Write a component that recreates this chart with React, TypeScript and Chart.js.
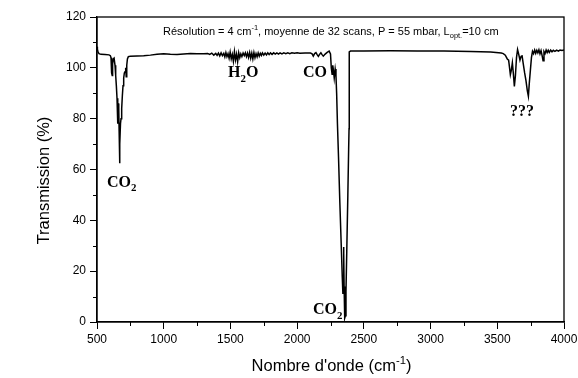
import React, { useEffect, useRef } from "react";
import { Chart, registerables } from "chart.js";

Chart.register(...registerables);

// Wavenumber (cm-1)
const wavenumbers: number[] = [
  500, 503, 508, 515, 530, 560, 590, 600, 605, 608, 611, 614, 617, 622, 628,
  635, 640, 645, 650, 654, 657, 660, 663, 666, 669, 672, 676, 680, 685, 690,
  695, 700, 705, 710, 715, 719, 723, 728, 735, 750,
  800, 850, 900, 950, 1000, 1050, 1100, 1150, 1200, 1250, 1300,
  1330, 1345, 1360, 1375, 1390, 1400, 1410, 1420, 1430, 1440, 1450, 1458, 1466,
  1474, 1482, 1490, 1498, 1506, 1514, 1522, 1530, 1538, 1546, 1554, 1562, 1570,
  1578, 1586, 1595, 1604, 1612, 1620, 1628, 1636, 1644, 1652, 1660, 1668, 1676,
  1684, 1692, 1700, 1708, 1716, 1724, 1732, 1740, 1750, 1760, 1770, 1780, 1790,
  1800, 1812, 1824, 1836, 1848, 1860, 1872, 1886, 1900, 1915, 1930, 1945, 1960,
  1980, 2000, 2020, 2060, 2100, 2112, 2121, 2131, 2141, 2150, 2159, 2168, 2178,
  2187, 2196, 2210, 2225, 2240, 2250, 2256, 2262, 2267, 2272, 2278, 2285, 2291,
  2296, 2302, 2310, 2320, 2330, 2338, 2343, 2346, 2348, 2350, 2352, 2355, 2358,
  2362, 2366, 2372, 2380, 2386, 2389, 2390, 2391, 2400,
  2500, 2700, 2900, 3100, 3300, 3450, 3530,
  3545, 3560, 3575, 3585, 3592, 3598, 3605, 3613, 3620, 3628, 3636, 3644, 3652,
  3660, 3670, 3678, 3685, 3695, 3705, 3715, 3725, 3733, 3740, 3748, 3756, 3764,
  3772, 3780, 3788, 3796, 3804, 3812, 3820, 3828, 3836, 3843, 3850, 3858, 3866,
  3874, 3882, 3890, 3900, 3910, 3920, 3932, 3945, 3958, 3970, 3985, 4000,
];

// Transmission (%)
const transmission: number[] = [
  108.3, 107.3, 106.2, 105.6, 105.3, 105.2, 105.1, 104.8, 104, 101, 98, 97, 101.5, 103.5, 103.8,
  101, 97, 93, 88, 83, 78, 86, 84, 75, 62.5, 70, 78, 80, 84, 89,
  93, 96, 98, 98.5, 100, 96.5, 101, 103.5, 104.4, 104.6,
  104.7, 104.8, 105.0, 105.3, 105.5, 105.3, 105.2, 105.4, 105.6, 105.5, 105.5,
  105.6, 105.3, 105.8, 105.0, 105.7, 104.9, 105.8, 104.7, 105.9, 104.8, 105.7, 104.3, 106.0,
  104.4, 105.6, 103.8, 106.2, 103.5, 105.3, 102.6, 106.4, 103.1, 105.4, 102.4, 105.9, 104.0,
  105.5, 104.4, 105.8, 104.8, 105.9, 104.4, 105.8, 104.1, 106.0, 103.8, 105.8, 103.5, 106.0,
  104.0, 105.6, 104.3, 105.9, 104.6, 105.7, 104.9, 105.9, 105.0, 105.8, 105.1, 105.9, 105.2,
  105.9, 105.3, 105.9, 105.4, 105.9, 105.4, 105.9, 105.5, 105.9, 105.6, 105.9, 105.6, 105.9,
  105.7, 105.9, 105.7, 105.8, 105.8, 105.5, 104.6, 105.6, 106.0, 105.2, 104.5, 105.3, 105.9,
  105.2, 104.6, 105.4, 106.1, 106.6, 105.5, 100, 97.5, 101, 99, 96, 99.5, 97,
  90, 78, 65, 47, 31, 18, 11, 18, 29.5, 27, 14, 5, 1.5,
  2.5, 12, 28, 50, 68, 76, 95, 106.3, 106.6,
  106.6, 106.7, 106.6, 106.6, 106.4, 106.2, 105.8,
  105.6, 105.0, 103.5, 103, 100, 97.3, 99, 102, 98, 92.7, 97, 104, 107.2,
  105.5, 103, 104.5, 105, 101.5, 98, 95, 91, 88.8, 94, 99, 104, 106.5,
  105.6, 107.0, 105.7, 106.9, 105.9, 107.1, 105.5, 106.8, 104.8, 102.8, 106.4, 105.6, 107.0,
  106.0, 106.9, 106.1, 107.0, 106.3, 106.9, 106.5, 107.0, 106.6, 107.0, 106.8, 107.0,
];

const xTickValues: number[] = [500, 1000, 1500, 2000, 2500, 3000, 3500, 4000];
const xMinorTickValues: number[] = [750, 1250, 1750, 2250, 2750, 3250, 3750];
const yTickValues: number[] = [0, 20, 40, 60, 80, 100, 120];
const yMinorTickValues: number[] = [10, 30, 50, 70, 90, 110];

// Peak labels: [main text, subscript, trailing text], anchored in data units
const peakLabelTexts: string[][] = [
  ["CO", "2", ""],
  ["H", "2", "O"],
  ["CO", "", ""],
  ["CO", "2", ""],
  ["???", "", ""],
];
const peakLabelX: number[] = [575, 1482, 2044, 2119, 3595];
const peakLabelY: number[] = [53.3, 96.2, 96.2, 3.2, 81.2];

const infoText: string[][] = [
  ["Résolution = 4 cm", ""],
  ["-1", "sup"],
  [", moyenne de 32 scans, P = 55 mbar, L", ""],
  ["opt.", "sub"],
  ["=10 cm", ""],
];
const infoAnchor: number[] = [995, 113];

const xTitle: string[][] = [
  ["Nombre d'onde (cm", ""],
  ["-1", "sup"],
  [")", ""],
];
const yTitle = "Transmission (%)";

const SANS = '"Liberation Sans", Arial, sans-serif';
const SERIF = '"Liberation Serif", "Times New Roman", serif';

function drawRich(
  ctx: CanvasRenderingContext2D,
  parts: string[][],
  x: number,
  y: number,
  size: number,
  family: string,
  weight: string,
  align: "left" | "center"
) {
  const small = size * 0.68;
  const fontFor = (kind: string) =>
    `${weight} ${kind === "" ? size : small}px ${family}`;
  let total = 0;
  for (const [t, k] of parts) {
    ctx.font = fontFor(k);
    total += ctx.measureText(t).width;
  }
  let cx = align === "center" ? x - total / 2 : x;
  ctx.textAlign = "left";
  ctx.textBaseline = "alphabetic";
  for (const [t, k] of parts) {
    ctx.font = fontFor(k);
    let dy = 0;
    if (k === "sup") dy = -size * 0.4;
    if (k === "sub") dy = size * 0.3;
    ctx.fillText(t, cx, y + dy);
    cx += ctx.measureText(t).width;
  }
}

const decorPlugin = {
  id: "decor",
  afterDraw(chart: any) {
    const ctx: CanvasRenderingContext2D = chart.ctx;
    const { left, right, top, bottom } = chart.chartArea;
    const xs = chart.scales.x;
    const ys = chart.scales.y;
    ctx.save();
    ctx.strokeStyle = "#000";
    ctx.fillStyle = "#000";
    // frame
    ctx.lineWidth = 1.3;
    ctx.strokeRect(left, top, right - left, bottom - top);
    // minor ticks
    ctx.lineWidth = 1;
    ctx.beginPath();
    for (const v of xMinorTickValues) {
      const px = Math.round(xs.getPixelForValue(v)) + 0.5;
      ctx.moveTo(px, bottom);
      ctx.lineTo(px, bottom + 4);
    }
    for (const v of yMinorTickValues) {
      const py = Math.round(ys.getPixelForValue(v)) + 0.5;
      ctx.moveTo(left, py);
      ctx.lineTo(left - 4, py);
    }
    ctx.stroke();

    // peak labels
    peakLabelTexts.forEach((p, i) => {
      const px = xs.getPixelForValue(peakLabelX[i]);
      const py = ys.getPixelForValue(peakLabelY[i]);
      const parts: string[][] = [[p[0], ""]];
      if (p[1]) parts.push([p[1], "sub"]);
      if (p[2]) parts.push([p[2], ""]);
      drawRich(ctx, parts, px, py, 16, SERIF, "bold", "left");
    });

    // info text
    drawRich(
      ctx,
      infoText,
      xs.getPixelForValue(infoAnchor[0]),
      ys.getPixelForValue(infoAnchor[1]),
      11,
      SANS,
      "normal",
      "left"
    );

    // axis titles
    drawRich(ctx, xTitle, (left + right) / 2 + 1, 371, 16.5, SANS, "normal", "center");
    ctx.save();
    ctx.translate(49, (top + bottom) / 2 + 11);
    ctx.rotate(-Math.PI / 2);
    ctx.font = `16.5px ${SANS}`;
    ctx.textAlign = "center";
    ctx.textBaseline = "alphabetic";
    ctx.fillText(yTitle, 0, 0);
    ctx.restore();
    ctx.restore();
  },
};

export default function App() {
  const ref = useRef<HTMLCanvasElement | null>(null);
  useEffect(() => {
    if (!ref.current) return;
    const points = wavenumbers.map((x, i) => ({ x, y: transmission[i] }));
    const chart = new Chart(ref.current, {
      type: "line",
      data: {
        datasets: [
          {
            data: points,
            borderColor: "#000",
            borderWidth: 1.5,
            pointRadius: 0,
            tension: 0,
            fill: false,
          },
        ],
      },
      options: {
        animation: false,
        responsive: false,
        maintainAspectRatio: false,
        layout: { padding: { left: 0, right: 14, top: 17, bottom: 0 } },
        plugins: { legend: { display: false }, tooltip: { enabled: false } },
        scales: {
          x: {
            type: "linear",
            min: 500,
            max: 4000,
            afterBuildTicks: (s: any) => {
              s.ticks = xTickValues.map((v) => ({ value: v }));
            },
            afterFit: (s: any) => {
              s.height = 56;
              s.paddingLeft = 0;
              s.paddingRight = 0;
            },
            grid: {
              drawOnChartArea: false,
              drawTicks: true,
              tickLength: 7,
              color: "#000",
              lineWidth: 1,
            },
            border: { display: true, color: "#000", width: 1.3 },
            ticks: {
              color: "#000",
              font: { family: SANS, size: 12 },
              padding: 3,
              maxRotation: 0,
              autoSkip: false,
              callback: (v: any) => String(v),
            },
          },
          y: {
            type: "linear",
            min: 0,
            max: 120,
            afterBuildTicks: (s: any) => {
              s.ticks = yTickValues.map((v) => ({ value: v }));
            },
            afterFit: (s: any) => {
              s.width = 97;
              s.paddingTop = 0;
              s.paddingBottom = 0;
            },
            grid: {
              drawOnChartArea: false,
              drawTicks: true,
              tickLength: 7,
              color: "#000",
              lineWidth: 1,
            },
            border: { display: true, color: "#000", width: 1.3 },
            ticks: {
              color: "#000",
              font: { family: SANS, size: 12 },
              padding: 4,
              autoSkip: false,
              callback: (v: any) => String(v),
            },
          },
        },
      },
      plugins: [decorPlugin],
    });
    return () => chart.destroy();
  }, []);
  return (
    <div style={{ position: "absolute", left: 0, top: 0, width: 578, height: 378, background: "#fff" }}>
      <canvas ref={ref} width={578} height={378} style={{ display: "block", width: 578, height: 378 }} />
    </div>
  );
}
